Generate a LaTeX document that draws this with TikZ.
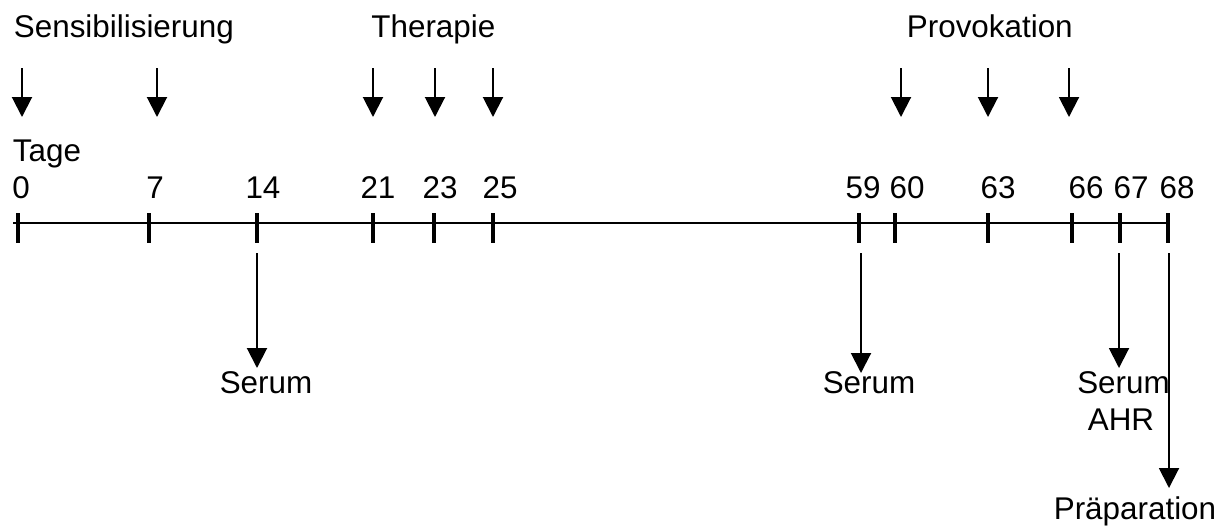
\documentclass[tikz,border=0pt]{standalone}
\usepackage{fontspec}
\setmainfont{Liberation Sans}
\usetikzlibrary{arrows.meta}

\begin{document}
\begin{tikzpicture}[
    x=0.5pt, y=-0.5pt,
    lbl/.style={inner sep=0pt, font=\fontsize{15.7}{18}\selectfont},
    head/.style={lbl, anchor=base west},
    day/.style={lbl, anchor=base},
    timeline/.style={line width=1pt},
    tick/.style={line width=1.8pt},
    arrow/.style={-{Triangle[width=10pt, length=10pt]}, line width=1pt}
]
    \useasboundingbox (0,0) rectangle (1226,526);

    % Phases
    \node[head] (sens) at (13.5,37) {Sensibilisierung};
    \node[head] (thera) at (371,37) {Therapie};
    \node[head] (provo) at (906.5,37) {Provokation};
    \node[head] (tage) at (12.5,161) {Tage};

    % Days on the time axis
    \coordinate (start) at (13,223);
    \coordinate (d0) at (18,223);
    \coordinate (d7) at (149,223);
    \coordinate (d14) at (257,223);
    \coordinate (d21) at (373,223);
    \coordinate (d23) at (434,223);
    \coordinate (d25) at (493,223);
    \coordinate (d59) at (859,223);
    \coordinate (d60) at (895,223);
    \coordinate (d63) at (988,223);
    \coordinate (d66) at (1072,223);
    \coordinate (d67) at (1120,223);
    \coordinate (d68) at (1168,223);

    \node[day] (n0) at (21,198) {0};
    \node[day] (n7) at (155,198) {7};
    \node[day] (n14) at (263,198) {14};
    \node[day] (n21) at (378,198) {21};
    \node[day] (n23) at (440,198) {23};
    \node[day] (n25) at (500,198) {25};
    \node[day] (n59) at (863,198) {59};
    \node[day] (n60) at (907,198) {60};
    \node[day] (n63) at (998,198) {63};
    \node[day] (n66) at (1086,198) {66};
    \node[day] (n67) at (1131,198) {67};
    \node[day] (n68) at (1177,198) {68};

    \draw[timeline] (start) -- (d68);
    \draw[tick] (d0) ++(0,-10) -- ++(0,30);
    \draw[tick] (d7) ++(0,-10) -- ++(0,30);
    \draw[tick] (d14) ++(0,-10) -- ++(0,30);
    \draw[tick] (d21) ++(0,-10) -- ++(0,30);
    \draw[tick] (d23) ++(0,-10) -- ++(0,30);
    \draw[tick] (d25) ++(0,-10) -- ++(0,30);
    \draw[tick] (d59) ++(0,-10) -- ++(0,30);
    \draw[tick] (d60) ++(0,-10) -- ++(0,30);
    \draw[tick] (d63) ++(0,-10) -- ++(0,30);
    \draw[tick] (d66) ++(0,-10) -- ++(0,30);
    \draw[tick] (d67) ++(0,-10) -- ++(0,30);
    \draw[tick] (d68) ++(0,-10) -- ++(0,30);

    % Treatments (arrows from above)
    \coordinate (i0) at (22,68);    \coordinate (o0) at (22,117);
    \coordinate (i7) at (157,68);   \coordinate (o7) at (157,117);
    \coordinate (i21) at (373,68);  \coordinate (o21) at (373,117);
    \coordinate (i23) at (435,68);  \coordinate (o23) at (435,117);
    \coordinate (i25) at (493,68);  \coordinate (o25) at (493,117);
    \coordinate (i60) at (901,68);  \coordinate (o60) at (901,117);
    \coordinate (i63) at (988,68);  \coordinate (o63) at (988,117);
    \coordinate (i66) at (1069,68); \coordinate (o66) at (1069,117);

    \draw[arrow] (i0) -- (o0);
    \draw[arrow] (i7) -- (o7);
    \draw[arrow] (i21) -- (o21);
    \draw[arrow] (i23) -- (o23);
    \draw[arrow] (i25) -- (o25);
    \draw[arrow] (i60) -- (o60);
    \draw[arrow] (i63) -- (o63);
    \draw[arrow] (i66) -- (o66);

    % Samples (arrows below)
    \node[day] (serum14) at (266,393) {Serum};
    \node[day] (serum59) at (869,393) {Serum};
    \node[day] (serum67) at (1123.5,393) {Serum};
    \node[day] (ahr) at (1121,430) {AHR};
    \node[day] (prep) at (1135,519) {Präparation};

    \coordinate (u14) at (257,253);  \coordinate (v14) at (257,368);
    \coordinate (u59) at (861,253);  \coordinate (v59) at (861,373);
    \coordinate (u67) at (1119,253); \coordinate (v67) at (1119,368);
    \coordinate (u68) at (1169,253); \coordinate (v68) at (1169,488);

    \draw[arrow] (u14) -- (v14);
    \draw[arrow] (u59) -- (v59);
    \draw[arrow] (u67) -- (v67);
    \draw[arrow] (u68) -- (v68);
\end{tikzpicture}
\end{document}
